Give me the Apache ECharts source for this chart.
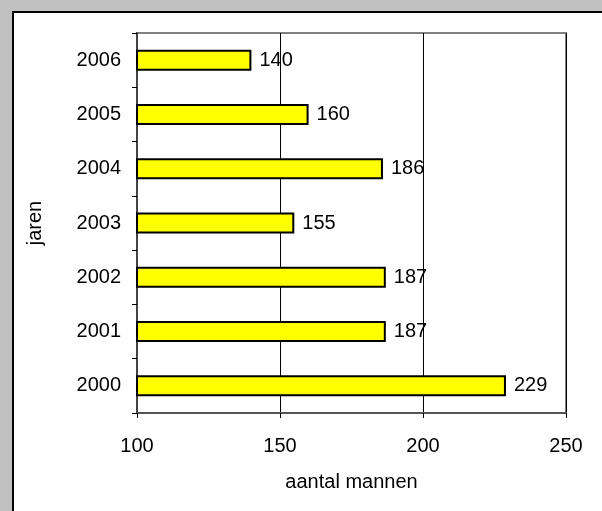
<!DOCTYPE html>
<html>
<head>
<meta charset="utf-8">
<script src="https://cdn.jsdelivr.net/npm/echarts@6/dist/echarts.min.js"></script>
<style>
html,body{margin:0;padding:0;background:#c0c0c0;}
#c{width:602px;height:511px;}
</style>
</head>
<body>
<div id="c"></div>
<script>
var categories = ['2000', '2001', '2002', '2003', '2004', '2005', '2006'];
var values = [229, 187, 187, 155, 186, 160, 140];
var xTicks = [100, 150, 200, 250];
var xName = 'aantal mannen';
var yName = 'jaren';

var font = '"Liberation Sans", Arial, sans-serif';
var chart = echarts.init(document.getElementById('c'), null, {renderer: 'canvas'});
chart.setOption({
  backgroundColor: '#c0c0c0',
  animation: false,
  graphic: [{
    type: 'rect', z: -100, silent: true,
    shape: {x: 13, y: 12, width: 700, height: 700},
    style: {fill: '#ffffff', stroke: '#000000', lineWidth: 2}
  }],
  grid: {
    left: 137, right: 36, top: 33, bottom: 98,
    show: true, borderColor: '#808080', borderWidth: 2, backgroundColor: 'transparent'
  },
  xAxis: {
    type: 'value',
    min: xTicks[0], max: xTicks[xTicks.length - 1], interval: 50,
    name: xName, nameLocation: 'middle', nameGap: 59,
    nameTextStyle: {fontFamily: font, fontSize: 20, color: '#000'},
    axisLine: {show: true, lineStyle: {color: '#555', width: 2}},
    axisTick: {show: true, inside: false, length: 5, lineStyle: {color: '#000', width: 1}},
    axisLabel: {fontFamily: font, fontSize: 20, color: '#000', margin: 23},
    splitLine: {show: true, lineStyle: {color: '#000', width: 1}}
  },
  yAxis: {
    type: 'category',
    data: categories,
    name: yName, nameLocation: 'middle', nameGap: 92, nameRotate: 90,
    nameTextStyle: {fontFamily: font, fontSize: 20, color: '#000'},
    axisLine: {show: true, lineStyle: {color: '#444', width: 2}},
    axisTick: {show: true, inside: false, length: 5, lineStyle: {color: '#000', width: 1}},
    axisLabel: {fontFamily: font, fontSize: 20, color: '#000', margin: 16, padding: [3, 0, 0, 0]},
    splitLine: {show: false}
  },
  series: [{
    type: 'bar',
    data: values,
    barWidth: 21,
    itemStyle: {color: '#ffff00', borderColor: '#000', borderWidth: 2},
    label: {show: true, position: 'right', distance: 8, fontFamily: font, fontSize: 20, color: '#000', padding: [3, 0, 0, 0]}
  }]
});
</script>
</body>
</html>
